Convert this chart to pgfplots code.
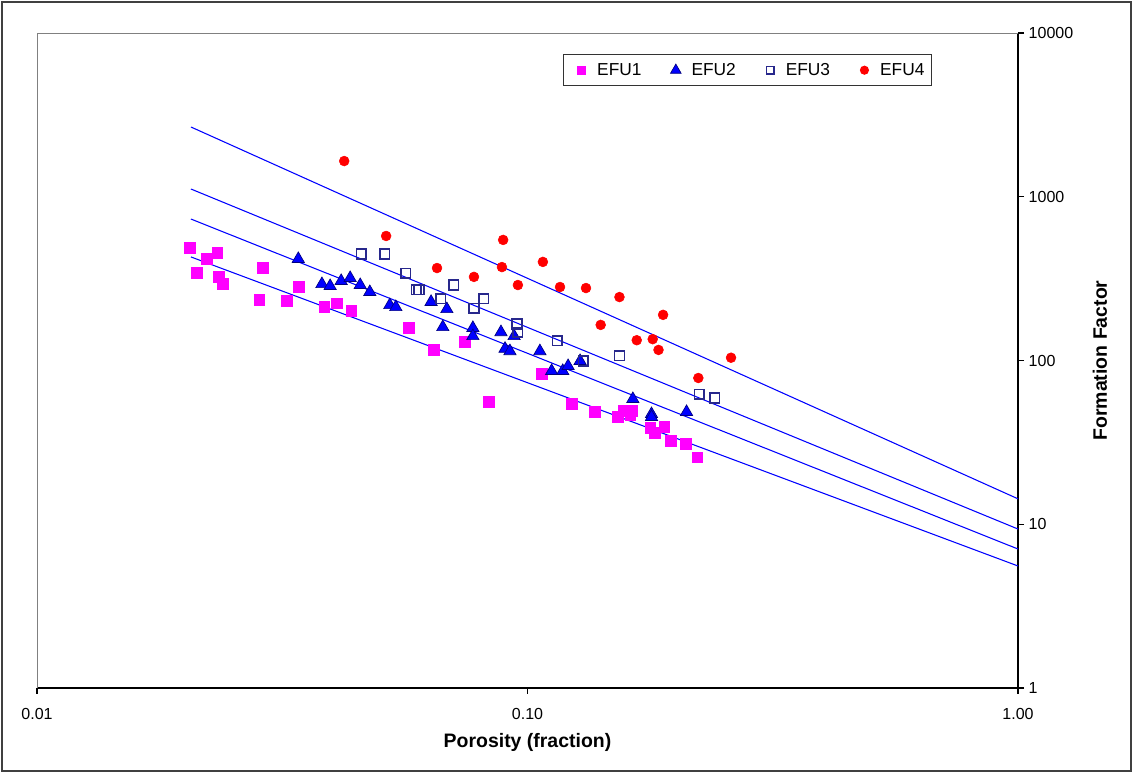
\documentclass[border=0pt]{standalone}
\usepackage{pgfplots}
\pgfplotsset{compat=1.18}
\usepackage{fontspec}
\setmainfont{Liberation Sans}
\definecolor{efuone}{RGB}{255,0,255}
\definecolor{efutwo}{RGB}{0,0,255}
\definecolor{efutwoedge}{RGB}{0,0,128}
\definecolor{efuthree}{RGB}{40,40,140}
\definecolor{efufour}{RGB}{255,0,0}
\definecolor{fitline}{RGB}{0,0,255}
\pgfplotsset{
  mylegimg/.style={legend image code/.code={%
      \path[draw=none, fill=none] (0pt,-4pt) rectangle (20.25pt,4pt);
      \draw[##1, mark size=#1] plot coordinates {(10.5pt,0pt)};}},
}
\begin{document}
\begin{tikzpicture}
\useasboundingbox (-27.75pt,-65.25pt) rectangle (823.5pt,516pt);
\begin{axis}[
  scale only axis, width=735.75pt, height=491.25pt,
  xmode=log, ymode=log, xmin=0.01, xmax=1, ymin=1, ymax=10000,
  axis x line=bottom, axis y line=right,
  axis line style={-, black, line width=1pt},
  xtick={0.01,0.1,1}, xticklabels={0.01,0.10,1.00},
  ytick={1,10,100,1000,10000}, yticklabels={1,10,100,1000,10000},
  xminorticks=false, yminorticks=false,
  tick align=outside, major tick length=4.5pt,
  tick style={black, line width=0.8pt},
  ticklabel style={font=\fontsize{12}{14}\selectfont},
  xticklabel style={yshift=-7.5pt},
  every axis x label/.style={at={(axis description cs:0.5,-0.0824)}, anchor=center,
     font=\bfseries\fontsize{14.6}{17}\selectfont},
  every axis y label/.style={at={(axis description cs:1.0836,0.5)}, anchor=center, rotate=90,
     font=\bfseries\fontsize{14.6}{17}\selectfont},
  xlabel={Porosity (fraction)},
  ylabel={Formation Factor},
  legend columns=4,
  legend style={at={(axis description cs:0.5362,0.968)}, anchor=north west,
     draw=black!80, line width=0.8pt, font=\fontsize{13}{15}\selectfont,
     inner xsep=3pt, inner ysep=4.5pt,
     /tikz/every odd column/.append style={column sep=0pt},
     /tikz/every even column/.append style={column sep=13.25pt}},
  clip=true,
]
% EFU1
\addplot[only marks, mark=square*, mark size=4pt, color=efuone, mylegimg=2.9pt] coordinates {
(0.0205,486) (0.0212,342) (0.0222,417) (0.0233,453) (0.0235,324) (0.0239,293)
(0.0284,234) (0.0289,367) (0.0323,231) (0.0342,281) (0.0385,212) (0.0409,224)
(0.0437,201) (0.0573,158) (0.0645,116) (0.0746,130) (0.0835,55.8) (0.107,82.7)
(0.123,54.2) (0.137,48.5) (0.153,45.2) (0.157,49.2) (0.163,49.2) (0.162,46.5)
(0.178,38.7) (0.182,36.1) (0.190,39.3) (0.196,32.2) (0.210,30.9) (0.222,25.7)
};
\addlegendentry{EFU1}
% EFU2
\addplot[only marks, mark=triangle*, mark size=5.3pt, color=efutwo,
  mark options={draw=efutwoedge, fill=efutwo, line width=0.5pt}, mylegimg=4.6pt] coordinates {
(0.0341,417) (0.0381,293) (0.0396,285) (0.0417,306) (0.0435,319) (0.0456,289)
(0.0477,262) (0.0524,218) (0.0539,212) (0.0636,228) (0.0685,206) (0.0672,160)
(0.0774,158) (0.0774,141) (0.0883,149) (0.0939,141) (0.0900,118) (0.0921,114)
(0.106,114) (0.112,86.3) (0.118,86.3) (0.121,92.5) (0.128,99.3) (0.164,58.2)
(0.179,47.1) (0.179,45.2) (0.211,48.5)
};
\addlegendentry{EFU2}
% EFU3
\addplot[only marks, mark=square, mark size=3.6pt, color=efuthree,
  mark options={line width=1.1pt}, mylegimg=2.9pt] coordinates {
(0.0458,447) (0.0512,447) (0.0565,342) (0.0593,270) (0.0601,270) (0.0708,289)
(0.0666,238) (0.0815,238) (0.0778,209) (0.0952,167) (0.0956,149) (0.115,132)
(0.130,99.3) (0.154,107) (0.224,62.4) (0.241,59.0)
};
\addlegendentry{EFU3}
% EFU4
\addplot[only marks, mark=*, mark size=3.7pt, color=efufour, mylegimg=3pt] coordinates {
(0.0423,1652) (0.0515,576) (0.0654,367) (0.0778,324) (0.0892,545) (0.0887,372)
(0.0956,289) (0.1075,400) (0.1165,281) (0.1316,277) (0.154,244) (0.141,165)
(0.167,133) (0.180,135) (0.185,116) (0.189,190) (0.223,78.2) (0.260,104)
};
\addlegendentry{EFU4}
% fitted lines
\addplot[forget plot, no marks, color=fitline, line width=0.8pt] coordinates {(0.0206,2667) (1,14.3)};
\addplot[forget plot, no marks, color=fitline, line width=0.8pt] coordinates {(0.0206,1115) (1,9.35)};
\addplot[forget plot, no marks, color=fitline, line width=0.8pt] coordinates {(0.0206,731) (1,7.06)};
\addplot[forget plot, no marks, color=fitline, line width=0.8pt] coordinates {(0.0206,429) (1,5.56)};
\end{axis}
\draw[black!50, line width=0.6pt] (0pt,0pt) -- (0pt,491.25pt) -- (735.75pt,491.25pt);
\draw[black!75, line width=0.8pt] (-26.25pt,-62.25pt) rectangle (820.5pt,514.5pt);
\end{tikzpicture}
\end{document}
